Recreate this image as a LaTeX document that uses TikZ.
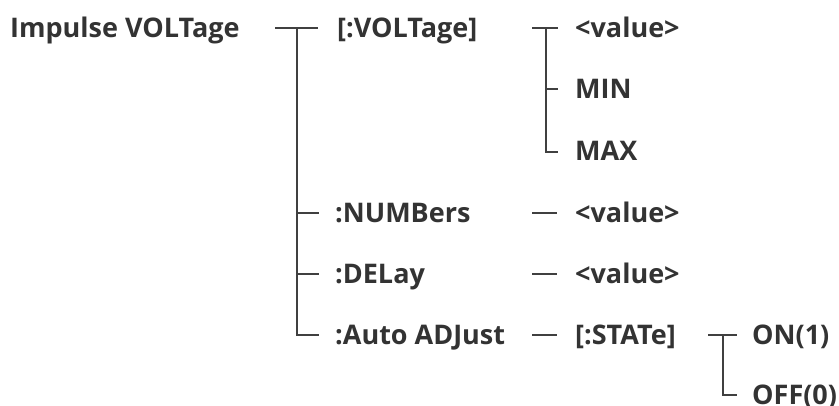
\documentclass[tikz,border=0pt]{standalone}
\usepackage{fontspec}
\setmainfont{Open Sans}
\definecolor{txtc}{HTML}{333333}
\definecolor{linec}{HTML}{404040}
\tikzset{
  lbl/.style={anchor=base west, inner sep=0pt, text=txtc, font=\fontsize{27}{32}\selectfont\bfseries},
  conn/.style={draw=linec, line width=2pt}
}
\begin{document}
\begin{tikzpicture}[x=1pt,y=-1pt]
\useasboundingbox[fill=white] (0,0) rectangle (839,406);
% texts
\node[lbl] (root) at (10,37.5) {Impulse VOLTage};
\node[lbl] (volt) at (337,37.5) {[:VOLTage]};
\node[lbl] (v1) at (575,37.5) {<value>};
\node[lbl] (min) at (575,98.5) {MIN};
\node[lbl] (max) at (575,160.5) {MAX};
\node[lbl] (num) at (335,222.5) {:NUMBers};
\node[lbl] (nv) at (575,222.5) {<value>};
\node[lbl] (del) at (335,283.5) {:DELay};
\node[lbl] (dv) at (575,283.5) {<value>};
\node[lbl] (auto) at (335,344.5) {:Auto ADJust};
\node[lbl] (state) at (575,344.5) {[:STATe]};
\node[lbl] (on) at (752,344.5) {ON(1)};
\node[lbl] (off) at (752,404) {OFF(0)};
% junction coordinates
\coordinate (r0) at (275,28);
\coordinate (r1) at (318,28);
\coordinate (rt) at (297,28);
\coordinate (rn) at (297,213);
\coordinate (rne) at (319,213);
\coordinate (rd) at (297,274);
\coordinate (rde) at (319,274);
\coordinate (ra) at (297,335);
\coordinate (rae) at (319,335);
\coordinate (a0) at (532,28);
\coordinate (a1) at (558,28);
\coordinate (at) at (546,28);
\coordinate (am) at (546,89);
\coordinate (ame) at (558,89);
\coordinate (ax) at (546,152);
\coordinate (axe) at (558,152);
\coordinate (n0) at (532,213);
\coordinate (n1) at (557,213);
\coordinate (d0) at (532,274);
\coordinate (d1) at (557,274);
\coordinate (u0) at (532,335);
\coordinate (u1) at (557,335);
\coordinate (s0) at (708,335);
\coordinate (s1) at (737,335);
\coordinate (st) at (723,335);
\coordinate (so) at (723,395);
\coordinate (soe) at (737,395);
% connectors
\draw[conn] (r0) -- (r1);
\draw[conn] (rt) -- (ra) -- (rae);
\draw[conn] (rn) -- (rne);
\draw[conn] (rd) -- (rde);
\draw[conn] (a0) -- (a1);
\draw[conn] (at) -- (ax) -- (axe);
\draw[conn] (am) -- (ame);
\draw[conn] (n0) -- (n1);
\draw[conn] (d0) -- (d1);
\draw[conn] (u0) -- (u1);
\draw[conn] (s0) -- (s1);
\draw[conn] (st) -- (so) -- (soe);
\end{tikzpicture}
\end{document}
